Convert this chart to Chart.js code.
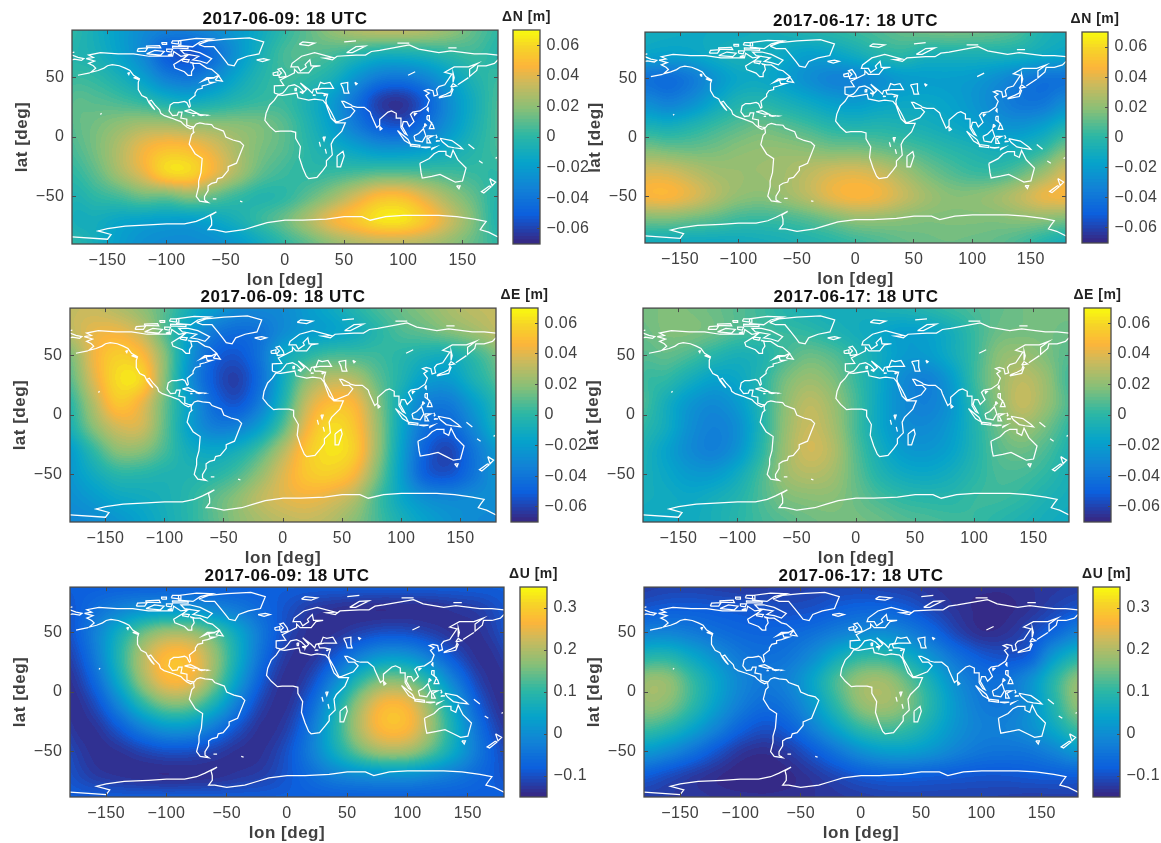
<!DOCTYPE html>
<html><head><meta charset="utf-8">
<style>html,body{margin:0;padding:0;background:#fff;width:1161px;height:843px;overflow:hidden}
canvas{position:absolute;filter:blur(0.45px)}</style>
<script src="https://cdn.jsdelivr.net/npm/chart.js@4"></script>
</head><body>
<script>
// ---- axes ----
const LON_NODES=[-180,-160,-140,-120,-100,-80,-60,-40,-20,0,20,40,60,80,100,120,140,160,180];
const LAT_NODES=[90,70,50,30,10,-10,-30,-50,-70,-90];
const LON_TICKS=[-150,-100,-50,0,50,100,150];
const LAT_TICKS=[-50,0,50];
const NE_TICKS=[-0.06,-0.04,-0.02,0,0.02,0.04,0.06];
const U_TICKS=[-0.1,0,0.1,0.2,0.3];
// ---- field values, millimetres ----
const DN_0609=[
[0,-10,-20,-30,-36,-36,-30,-22,-12,0,10,20,27,30,30,27,20,10,0],
[-3,-8,-18,-32,-52,-56,-44,-25,-8,5,8,5,-2,-8,-8,-5,0,3,-3],
[2,0,-8,-20,-36,-40,-30,-15,-3,3,0,-8,-25,-38,-40,-32,-18,-5,2],
[8,8,5,0,-8,-12,-8,-2,2,2,-8,-22,-42,-62,-65,-50,-28,-10,5],
[8,14,20,25,25,22,20,18,15,8,-5,-20,-38,-52,-55,-42,-25,-8,6],
[5,15,28,42,50,48,38,25,15,8,-2,-10,-18,-25,-25,-20,-12,-3,5],
[0,10,25,40,58,58,42,25,10,3,0,2,5,8,8,6,4,2,0],
[-5,0,5,12,12,18,10,2,-3,0,10,22,36,48,48,36,22,10,-3],
[-8,-10,-15,-18,-20,-20,-15,-8,2,12,26,42,52,62,62,50,33,15,-5],
[0,-10,-20,-27,-30,-30,-28,-22,-12,0,10,20,27,30,30,27,20,10,0]];
const DN_0617=[
[-10,-12,-13,-13,-12,-10,-8,-5,-2,2,6,10,12,13,12,10,5,-6,-10],
[-18,-20,-18,-12,-8,-10,-15,-20,-18,-12,-5,-2,-8,-8,-8,-8,-10,-14,-18],
[-42,-45,-38,-25,-15,-14,-20,-28,-34,-34,-28,-22,-20,-20,-22,-28,-36,-42,-42],
[-30,-35,-28,-15,-5,-3,-8,-14,-20,-22,-18,-15,-15,-18,-24,-32,-40,-40,-30],
[-8,-10,-5,2,8,12,8,3,-3,-5,-4,-6,-9,-13,-18,-24,-26,-20,-8],
[15,13,12,14,18,20,20,18,15,15,12,8,3,-2,-6,-10,-8,0,15],
[36,36,30,24,22,22,24,30,36,38,34,25,15,8,3,3,10,22,36],
[44,45,38,28,20,18,22,30,40,45,42,33,24,18,18,22,30,40,44],
[15,15,12,8,3,2,4,8,14,20,20,18,16,16,16,16,18,18,15],
[-10,-12,-13,-13,-12,-10,-8,-5,-2,2,6,10,12,13,12,10,5,-3,-10]];
const DE_0609=[
[32,33,28,20,8,-8,-20,-30,-32,-30,-22,-14,-4,5,12,18,25,30,32],
[30,40,42,32,8,-18,-38,-45,-42,-30,-22,-18,-12,-2,6,10,16,22,30],
[15,42,55,48,18,-22,-48,-55,-42,-15,-2,5,5,3,-2,-8,-10,0,15],
[8,38,60,58,18,-25,-52,-62,-45,-12,18,30,28,10,-5,-20,-22,-8,8],
[-2,28,52,42,12,-18,-45,-55,-38,-5,32,48,45,18,-12,-35,-38,-22,-2],
[-8,18,35,35,10,-18,-35,-35,-20,8,42,60,52,22,-15,-42,-48,-32,-8],
[-22,0,18,18,5,-10,-15,-10,5,28,52,62,55,22,-18,-50,-60,-42,-22],
[-25,-12,-2,-2,-5,-5,-3,5,20,38,52,55,45,15,-20,-50,-55,-42,-25],
[-28,-22,-15,-12,-8,-2,8,18,30,38,42,38,28,5,-15,-28,-32,-30,-28],
[-32,-30,-25,-18,-10,-2,8,18,25,30,32,28,18,5,-8,-18,-25,-30,-32]];
const DE_0617=[
[14,16,15,12,8,3,-3,-8,-10,-10,-8,-6,-3,2,6,10,13,15,14],
[12,16,16,12,6,3,2,0,-5,-10,-15,-20,-18,-10,2,12,14,14,12],
[8,10,5,-3,-8,-5,5,12,8,-2,-12,-22,-22,-12,2,18,22,16,8],
[4,0,-10,-18,-15,-3,14,22,16,2,-14,-30,-35,-22,2,20,30,22,4],
[6,-10,-24,-30,-22,-4,18,30,22,5,-15,-30,-35,-25,-2,18,32,22,6],
[0,-12,-28,-35,-28,-5,20,33,25,5,-15,-28,-30,-22,-5,12,22,14,0],
[-6,-18,-30,-35,-25,-2,22,35,28,8,-10,-22,-24,-18,-5,8,12,6,-6],
[-8,-15,-22,-22,-12,5,22,28,24,10,-4,-12,-14,-10,-2,5,5,0,-8],
[-10,-12,-14,-10,-4,6,15,18,18,12,5,0,-2,-2,2,3,0,-6,-10],
[-13,-14,-12,-8,-2,4,8,12,14,14,12,8,6,4,2,-2,-6,-10,-13]];
const DU_0609=[
[-85,-85,-85,-85,-85,-85,-85,-85,-85,-85,-85,-85,-85,-85,-85,-85,-85,-85,-85],
[-95,-60,-25,0,10,5,-15,-40,-70,-100,-125,-135,-140,-142,-140,-138,-130,-120,-95],
[-100,-30,58,138,183,178,123,40,-47,-110,-138,-135,-116,-101,-103,-120,-137,-135,-100],
[-120,-40,81,198,268,262,176,55,-60,-129,-135,-89,-26,15,10,-38,-100,-138,-120],
[-136,-70,52,179,258,250,156,25,-90,-140,-108,-15,91,156,148,71,-36,-120,-136],
[-140,-108,-15,91,156,148,71,-36,-120,-136,-70,52,179,258,250,156,25,-90,-140],
[-129,-135,-89,-26,15,10,-38,-100,-138,-120,-40,81,198,268,262,176,55,-60,-129],
[-110,-138,-135,-116,-101,-103,-120,-137,-135,-100,-30,58,138,183,178,123,40,-47,-110],
[-100,-125,-135,-140,-142,-140,-138,-130,-120,-95,-60,-25,-5,5,5,-15,-40,-70,-100],
[-85,-85,-85,-85,-85,-85,-85,-85,-85,-85,-85,-85,-85,-85,-85,-85,-85,-85,-85]];
const DU_0617=[
[-125,-120,-120,-125,-130,-130,-125,-120,-115,-115,-120,-125,-135,-140,-140,-140,-135,-130,-125],
[-95,-85,-85,-90,-95,-100,-105,-100,-85,-75,-75,-90,-115,-135,-145,-145,-135,-115,-95],
[-25,-20,-35,-55,-70,-75,-70,-55,-30,-10,-5,-30,-70,-115,-140,-135,-110,-70,-25],
[80,85,45,0,-40,-55,-45,-5,55,95,95,55,0,-55,-90,-100,-80,20,80],
[170,170,105,40,-15,-40,-20,40,120,175,180,130,60,-10,-50,-50,0,90,170],
[170,160,100,30,-30,-60,-40,20,100,170,185,150,80,10,-35,-40,0,85,170],
[110,90,40,-20,-75,-100,-80,-25,40,100,120,100,55,5,-25,-25,0,50,110],
[15,-10,-50,-95,-130,-140,-125,-90,-45,0,25,25,5,-25,-45,-50,-45,-20,15],
[-85,-105,-125,-140,-150,-150,-145,-130,-110,-90,-80,-80,-85,-90,-95,-95,-90,-85,-85],
[-125,-128,-130,-135,-138,-140,-138,-135,-130,-125,-120,-118,-118,-120,-120,-122,-125,-125,-125]];
// ---- coastlines [lon,lat] ----
const COAST_AMERICAS=[[-168,66],[-162,67],[-166,69],[-156,71],[-141,70],[-128,70],[-115,68],[-108,68],[-95,68],[-94,72],[-88,68],[-82,69],[-86,66],[-94,61],[-93,58],[-85,55],[-82,52],[-79,52],[-79,55],[-77,58],[-78,62],[-72,62],[-66,58],[-62,57],[-56,52],[-60,50],[-66,50],[-70,47],[-65,49],[-64,46],[-60,46],[-66,44],[-70,43],[-70,41],[-74,40],[-76,37],[-76,35],[-81,31],[-80,26],[-81,25],[-83,29],[-85,30],[-90,29],[-94,29],[-97,27],[-98,22],[-95,18],[-91,18.5],[-90,21],[-87,21],[-88,16],[-83,15],[-83,10],[-80,9],[-77,8.5],[-75,11],[-72,12],[-68,11],[-62,10.5],[-60,8],[-52,5],[-50,0],[-44,-2.5],[-38,-4],[-35,-7],[-37,-12],[-39,-17],[-41,-22],[-48,-25],[-48,-28],[-53,-34],[-57,-35],[-58,-38],[-62,-39],[-65,-41],[-65,-45],[-68,-50],[-68,-53],[-65,-55],[-72,-54],[-75,-50],[-73,-42],[-73,-37],[-71,-30],[-70,-18],[-76,-14],[-81,-6],[-80,-2],[-79,2],[-77,4],[-77.5,8],[-80,7],[-83,8.5],[-86,11],[-88,13],[-92,14.5],[-96,16],[-102,18],[-105,20],[-106,23],[-110,27],[-113,31],[-115,30],[-110,23],[-112,25],[-115,29],[-117,33],[-121,35],[-124,40],[-124,46],[-123,49],[-128,52],[-131,56],[-135,58],[-140,60],[-146,61],[-150,60],[-153,58],[-158,56],[-164,54.5],[-160,58],[-162,60],[-166,62],[-161,64],[-168,66]];
const COAST_AFRICA=[[-6,35.5],[-2,35],[10,37],[11,33],[20,31],[25,32],[32,31],[34.5,28],[37,21],[39,16],[43,12],[51,12],[48,5],[41,-2],[39,-6],[40,-15],[35,-20],[35,-24],[32,-28],[27,-34],[20,-35],[18,-33],[15,-26],[12,-17],[13,-8],[9,-1],[9,4],[5,5],[-4,5],[-8,4.5],[-13,9],[-17,14],[-16,20],[-13,27],[-9,31],[-6,35.5]];
const COAST_EURASIA_N=[[-9,37],[-9,43],[-1,43.5],[-4,48],[2,51],[8,54],[8,57],[11,54],[20,54],[24,59],[30,60],[22,60],[21,65],[17,61],[18,59],[13,55.5],[11,59],[5,59],[6,62],[14,68],[25,71],[40,67],[33,66.5],[40,65],[44,68],[60,69],[68,69],[73,72],[80,73],[105,77.5],[113,74],[130,71],[140,72.5],[160,70],[170,70],[180,69]];
const COAST_EURASIA_S=[[180,65],[177,62],[170,60],[163,60],[162,56],[156,51],[156,57],[163,62],[155,59],[143,59],[135,54.5],[141,53],[135,44],[130,42.5],[128,40],[129,35.5],[126,34.5],[125,39],[121,40],[118,39],[122,37],[119,35],[122,31],[120,26],[114,22],[108,21],[106,19],[109,13],[105,9],[103,13],[100,13],[99,9],[103,2],[101,3],[98,8],[98,16],[94,16],[94,20],[90,22],[87,21],[80,15],[80,10],[77.5,8],[73,18],[72,21],[67,25],[61,25],[57,26],[56,27],[50,30],[48,30],[51,25],[56,25],[59,22],[55,17],[45,13],[43,13],[39,21],[35,28],[34.5,31],[36,36],[31,37],[27,37],[26,40],[31,41],[41,41],[38,46],[33,45],[30,46],[28,41],[24,40],[23,37],[20,40],[13,45.5],[18,40],[16,38],[12,42],[8,44],[3,43],[0,39],[-2,37],[-5,36],[-9,37]];
const COAST_CHUKOTKA=[[-180,69],[-175,67],[-170,66],[-172,64.5],[-178,65.5],[-180,65]];
const COAST_ANTARCTICA=[[-180,-84],[-150,-86],[-147,-82],[-158,-79],[-150,-77],[-135,-75],[-115,-74],[-100,-73],[-85,-73],[-75,-71],[-68,-68],[-58,-63],[-63,-66],[-62,-70],[-62,-74],[-65,-78],[-60,-78],[-50,-80],[-35,-78],[-25,-75],[-15,-72],[0,-70],[15,-70],[35,-69],[50,-67],[65,-67],[72,-70],[85,-67],[100,-66],[115,-66],[130,-66],[145,-67],[160,-69],[170,-71],[167,-75],[165,-78],[172,-80],[180,-84]];
const COAST_ISLANDS=[
[[-73,78],[-68,76],[-60,76],[-55,70],[-51,65],[-48,61],[-43,60],[-40,65],[-32,68],[-22,70],[-20,75],[-18,80],[-30,83.5],[-50,82.5],[-65,81],[-73,78]],
[[-80,73],[-72,71],[-62,66],[-66,62],[-72,64],[-78,65],[-73,68],[-85,70],[-88,73],[-80,73]],
[[-117,70],[-105,69],[-102,72],[-110,73],[-117,70]],
[[-125,72],[-118,72],[-116,75],[-124,74.5],[-125,72]],
[[-90,77],[-78,76],[-72,80],[-62,82.5],[-75,83],[-90,81],[-90,77]],
[[-95,75],[-82,74.5],[-82,76],[-95,76.5],[-95,75]],
[[-117,75.5],[-105,75],[-106,77],[-117,76.5],[-117,75.5]],
[[-100,72],[-96,71.5],[-95,74],[-100,74],[-100,72]],
[[-96,79],[-88,78],[-88,81],[-95,81],[-96,79]],
[[-104,78],[-100,78],[-100,79.5],[-104,79.5],[-104,78]],
[[-99,69],[-96,69],[-96,70],[-99,69]],
[[-87,64],[-82,63],[-81,65],[-86,65.5],[-87,64]],
[[-80,62.5],[-78,62.5],[-80,63],[-80,62.5]],
[[-59,48],[-56,51.5],[-53,47],[-59,48]],
[[-64,50],[-62,49.5],[-64,49.3],[-64,50]],
[[-128,50],[-124,48.5],[-125,50],[-128,50]],
[[-133,54],[-132,52.5],[-131.5,54],[-133,54]],
[[-85,22],[-80,23],[-74,20],[-78,20],[-85,22]],
[[-74,19],[-68,18.5],[-71,18],[-74,19]],
[[-78,18.3],[-76.5,18],[-78,18],[-78,18.3]],
[[-67,18.4],[-65.7,18.3],[-67,18]],
[[-175,52],[-165,54]],
[[-156,19],[-155,20]],
[[-61,-52],[-58,-52]],
[[-38,-54],[-36,-54.5]],
[[-24,65],[-18,66],[-14,65],[-19,63.5],[-24,65]],
[[47,45],[53,46],[53,40],[54,37],[50,37],[49,41],[47,45]],
[[59,46],[61,45],[60,44],[59,46]],
[[104,52],[110,55]],
[[32,0],[34,0],[33,-3],[32,0]],
[[29,-4],[30,-8]],
[[34,-10],[35,-14]],
[[-5,50],[1,51],[0,54],[-3,58],[-6,57],[-3,54],[-5,52],[-5,50]],
[[-10,52],[-6,52],[-6,55],[-10,54],[-10,52]],
[[12,78],[20,77],[25,79],[15,80],[12,78]],
[[52,71],[57,71],[68,76.5],[60,76],[52,71]],
[[50,80],[60,81]],
[[95,79],[105,79]],
[[138,75],[145,75]],
[[-180,71],[-178,71.5]],
[[12.5,38],[15.5,38],[15,36.8],[12.5,38]],
[[8.2,41],[9.7,41],[9.5,39],[8.5,39],[8.2,41]],
[[23.5,35.4],[26,35.2],[24,35],[23.5,35.4]],
[[32.5,35],[34.5,35.5],[33.5,34.7],[32.5,35]],
[[44,-16],[49,-12],[50,-16],[47,-25],[44,-25],[44,-16]],
[[80,9],[82,7],[80.5,6],[80,9]],
[[95,5.5],[104,-2],[106,-6],[101,-3],[95,5.5]],
[[106,-6],[114,-7],[114,-8.5],[106,-7.5],[106,-6]],
[[109,1],[113,3],[117,7],[119,1],[116,-4],[110,-3],[109,1]],
[[120,1],[125,1],[121,-1],[123,-5],[120,-5],[120,1]],
[[131,-1],[141,-3],[148,-8],[150,-10],[143,-9],[138,-8],[133,-4],[131,-1]],
[[120,18],[122,18],[122,14],[125,10],[126,7],[122,7],[124,12],[120,15],[120,18]],
[[118,11.5],[119.5,10],[117.5,8.5],[118,11.5]],
[[121,25],[121,22],[120,23],[121,25]],
[[109,20],[111,19.8],[109.5,18.3],[109,20]],
[[115,-8.4],[119,-8.5],[123,-8.4],[119,-9],[115,-8.4]],
[[124,-9.5],[127,-8.5],[124,-10.3],[124,-9.5]],
[[127.5,2],[128.5,0],[127.5,-1]],
[[128,-3],[131,-3.2],[128,-3.6],[128,-3]],
[[130,33],[135,34],[140,35],[142,40],[141,41],[140,38],[136,36],[131,34],[130,33]],
[[140,42],[145,43],[142,45],[140,42]],
[[142,46],[143,50],[142,54],[142,46]],
[[146,44],[155,50]],
[[114,-22],[122,-18],[126,-14],[130,-12],[136,-12],[136,-15],[140,-17],[142,-11],[146,-19],[153,-26],[150,-37],[144,-38],[138,-35],[131,-31.5],[124,-33],[116,-34.5],[115,-30],[114,-22]],
[[145,-41],[148,-41],[147,-43.5],[145,-41]],
[[173,-35],[178,-38],[175,-41],[174,-38],[173,-35]],
[[173,-41],[174,-42],[168,-47],[166,-46],[173,-41]],
[[164,-20],[167,-22]],
[[155,-6],[160,-10]],
[[178,-18],[179,-17]]];
const COAST_LINES=[COAST_AMERICAS,COAST_AFRICA,COAST_EURASIA_N,COAST_EURASIA_S,COAST_CHUKOTKA,COAST_ANTARCTICA,...COAST_ISLANDS];
// ---- colour map anchors ----
const COLORMAP=[[0,53,42,135],[0.125,12,95,221],[0.25,18,130,214],[0.375,6,164,202],[0.5,44,183,165],[0.625,134,191,120],[0.75,205,186,92],[0.83,253,181,58],[0.92,246,212,40],[1,249,251,14]];
const LEVELS=64;
function mapColor(f){
  f=Math.min(LEVELS-1,Math.max(0,Math.floor(f*LEVELS)))/(LEVELS-1);
  let i=0; while(i<COLORMAP.length-2&&f>COLORMAP[i+1][0])i++;
  const a=COLORMAP[i],b=COLORMAP[i+1],t=(f-a[0])/(b[0]-a[0]);
  return [1,2,3].map(k=>Math.round(a[k]+(b[k]-a[k])*t));
}
// ---- layout ----
const T1='2017-06-09: 18 UTC',T2='2017-06-17: 18 UTC';
const PANELS=[
 {l:72,r:498,t:30,b:244,cl:513,cr:540,lat:90,title:T1,cb:'ΔN [m]',grid:DN_0609,min:-0.07,max:0.07,ticks:NE_TICKS},
 {l:645,r:1066,t:32,b:243,cl:1082,cr:1108,lat:90,title:T2,cb:'ΔN [m]',grid:DN_0617,min:-0.07,max:0.07,ticks:NE_TICKS},
 {l:70,r:496,t:308,b:522,cl:511,cr:538,lat:90,title:T1,cb:'ΔE [m]',grid:DE_0609,min:-0.07,max:0.07,ticks:NE_TICKS},
 {l:643,r:1069,t:308,b:522,cl:1084,cr:1111,lat:90,title:T2,cb:'ΔE [m]',grid:DE_0617,min:-0.07,max:0.07,ticks:NE_TICKS},
 {l:70,r:504,t:587,b:797,cl:520,cr:547,lat:88,title:T1,cb:'ΔU [m]',grid:DU_0609,min:-0.15,max:0.35,ticks:U_TICKS},
 {l:644,r:1078,t:587,b:797,cl:1093,cr:1120,lat:88,title:T2,cb:'ΔU [m]',grid:DU_0617,min:-0.15,max:0.35,ticks:U_TICKS}];
const FONT='"Liberation Sans",Arial,sans-serif', AXC='#404040', YW=60, XH=47, TH=21, CBPAD=60;
const minus=v=>String(v).replace('-','\u2212');
function mkCanvas(x,y,w,h){const c=document.createElement('canvas');c.width=w;c.height=h;c.style.left=x+'px';c.style.top=y+'px';c.style.width=w+'px';c.style.height=h+'px';document.body.appendChild(c);return c;}
const spacing={id:'spacing',beforeDraw(ch){ch.ctx.letterSpacing='0.5px';}};
const box={id:'box',afterDraw(ch){const a=ch.chartArea,c=ch.ctx;c.save();c.strokeStyle='#4a4a4a';c.lineWidth=1.3;c.strokeRect(a.left,a.top,a.right-a.left,a.bottom-a.top);c.restore();}};
function cr(p0,p1,p2,p3,t){return p1+0.5*t*(p2-p0+t*(2*p0-5*p1+4*p2-p3+t*(3*(p1-p2)+p3-p0)));}
function sample(g,lon,lat){
  const fx=(lon-LON_NODES[0])/20, fy=(LAT_NODES[0]-lat)/20;
  const ix=Math.min(LON_NODES.length-2,Math.max(0,Math.floor(fx))), iy=Math.min(LAT_NODES.length-2,Math.max(0,Math.floor(fy)));
  const tx=fx-ix,ty=fy-iy, n=LON_NODES.length-1, vals=[];
  const wrap=i=>i<0?i+n:(i>n?i-n:i);
  for(let j=-1;j<=2;j++){const row=g[Math.min(LAT_NODES.length-1,Math.max(0,iy+j))];
    vals.push(cr(row[wrap(ix-1)],row[wrap(ix)],row[wrap(ix+1)],row[wrap(ix+2)],tx));}
  return cr(vals[0],vals[1],vals[2],vals[3],ty);
}
function heatPlugin(p){return {id:'heat',beforeDatasetsDraw(ch){
  const a=ch.chartArea,x=ch.scales.x,y=ch.scales.y,L=Math.round(a.left),T=Math.round(a.top),W=Math.round(a.right-a.left),H=Math.round(a.bottom-a.top);
  const img=ch.ctx.createImageData(W,H),d=img.data;
  for(let j=0;j<H;j++){const lat=y.getValueForPixel(T+j+0.5);
    for(let i=0;i<W;i++){const lon=x.getValueForPixel(L+i+0.5),v=sample(p.grid,lon,lat)/1000;
      const c=mapColor((v-p.min)/(p.max-p.min)),k=4*(j*W+i);d[k]=c[0];d[k+1]=c[1];d[k+2]=c[2];d[k+3]=255;}}
  ch.ctx.putImageData(img,L,T);
}};}
function fixedTicks(arr){return s=>{s.ticks=arr.map(v=>({value:v}));};}
function tickGrid(){return {drawOnChartArea:false,drawTicks:true,tickLength:-4,color:'#4a4a4a',z:1};}
PANELS.forEach(p=>{
  const W=YW+(p.r-p.l)+8,H=TH+(p.b-p.t)+XH;
  const nodes=[];p.grid.forEach((row,j)=>row.forEach((v,i)=>nodes.push({x:LON_NODES[i],y:Math.max(-p.lat,Math.min(p.lat,LAT_NODES[j])),v:v/1000})));
  const coast=[];COAST_LINES.forEach(l=>{l.forEach(q=>coast.push({x:q[0],y:q[1]}));coast.push({x:null,y:null});});
  new Chart(mkCanvas(p.l-YW,p.t-TH,W,H),{type:'scatter',
    data:{datasets:[
      {label:'field',data:nodes,pointRadius:0,showLine:false},
      {label:'coast',data:coast,showLine:true,spanGaps:false,borderColor:'#ffffff',borderWidth:1.25,pointRadius:0,tension:0}]},
    plugins:[spacing,heatPlugin(p),box],
    options:{responsive:false,animation:false,events:[],devicePixelRatio:1,layout:{padding:{right:8}},
      plugins:{legend:{display:false},tooltip:{enabled:false},
        title:{display:true,text:p.title,fullSize:false,color:'#111',font:{family:FONT,size:17,weight:'bold',lineHeight:1.2},padding:{top:0,bottom:0.6}}},
      scales:{
        x:{type:'linear',position:'bottom',min:-180,max:180,afterBuildTicks:fixedTicks(LON_TICKS),afterFit:s=>{s.height=XH;},
           grid:tickGrid(),border:{display:false},
           ticks:{autoSkip:false,maxRotation:0,padding:11,color:AXC,font:{family:FONT,size:16},callback:minus},
           title:{display:true,text:'lon [deg]',color:AXC,padding:0,font:{family:FONT,size:17,weight:'bold',lineHeight:1.2}}},
        y:{type:'linear',position:'left',min:-p.lat,max:p.lat,afterBuildTicks:fixedTicks(LAT_TICKS),afterFit:s=>{s.width=YW;},
           grid:tickGrid(),border:{display:false},
           ticks:{autoSkip:false,padding:11.5,color:AXC,font:{family:FONT,size:16},callback:minus},
           title:{display:true,text:'lat [deg]',color:AXC,padding:0,font:{family:FONT,size:17,weight:'bold',lineHeight:1.2}}},
        xTop:{type:'linear',position:'top',min:-180,max:180,afterBuildTicks:fixedTicks(LON_TICKS),afterFit:s=>{s.height=0;},
           grid:tickGrid(),border:{display:false},ticks:{display:false,autoSkip:false}},
        yRight:{type:'linear',position:'right',min:-p.lat,max:p.lat,afterBuildTicks:fixedTicks(LAT_TICKS),afterFit:s=>{s.width=0;},
           grid:tickGrid(),border:{display:false},ticks:{display:false,autoSkip:false}}
      }}});
  // colour bar: canvas is symmetric round the bar so the label centres on it
  const CW=CBPAD+(p.cr-p.cl)+CBPAD,CH=TH+(p.b-p.t)+2;
  const step=(p.max-p.min)/LEVELS,levels=[];
  for(let i=0;i<LEVELS;i++){const lo=p.min+step*i,hi=p.min+step*(i+1)+(i<LEVELS-1?step*0.3:0),c=mapColor((i+0.5)/LEVELS);
    levels.push({label:'level'+i,data:[[lo,hi]],backgroundColor:'rgb('+c.join(',')+')',borderWidth:0,barPercentage:1,categoryPercentage:1,grouped:false});}
  new Chart(mkCanvas(p.cl-CBPAD,p.t-TH,CW,CH),{type:'bar',data:{labels:['colorbar'],datasets:levels},
    plugins:[spacing,box],
    options:{responsive:false,animation:false,events:[],devicePixelRatio:1,layout:{padding:{bottom:2}},
      plugins:{legend:{display:false},tooltip:{enabled:false},
        title:{display:true,text:p.cb,color:'#222',font:{family:FONT,size:14,weight:'bold',lineHeight:1.2},padding:{top:0,bottom:4.2}}},
      scales:{
        x:{type:'category',display:false},
        y:{type:'linear',position:'right',min:p.min,max:p.max,afterBuildTicks:fixedTicks(p.ticks),afterFit:s=>{s.width=CBPAD;s.paddingTop=0;s.paddingBottom=0;},
           grid:{drawOnChartArea:false,drawTicks:true,tickLength:-3,color:'#4a4a4a',z:1},border:{display:false},
           ticks:{autoSkip:false,padding:9.5,color:AXC,font:{family:FONT,size:16},callback:minus}},
        yLeft:{type:'linear',position:'left',min:p.min,max:p.max,afterFit:s=>{s.width=CBPAD;s.paddingTop=0;s.paddingBottom=0;},
           grid:{display:false},border:{display:false},ticks:{display:false}}
      }}});
});
</script>
</body></html>
